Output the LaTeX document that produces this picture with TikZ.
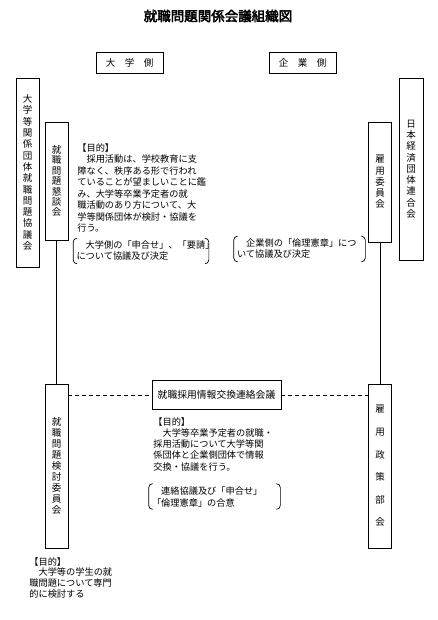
\documentclass[tikz,border=0pt]{standalone}
\usepackage{fontspec}
\setmainfont{Noto Sans CJK JP}
\newfontfamily\midashi{Noto Sans CJK JP}[FakeBold=3]
\begin{document}
\begin{tikzpicture}[x=1pt, y=-1pt, line width=0.7pt,
	tate/.style={draw, align=center, inner sep=0pt, minimum width=23pt},
	honbun/.style={anchor=north west, align=left, inner sep=0pt},
	kakko/.style={align=left, inner xsep=3pt, inner ysep=0pt, text width=125pt, minimum height=25pt}]

\useasboundingbox (0,0) rectangle (437,620);

\node[font=\fontsize{13.5}{16}\midashi] (title) at (218,16) {就職問題関係会議組織図};

% 大学側・企業側
\node[draw, minimum width=67pt, minimum height=21pt, font=\fontsize{9.5}{11}\selectfont] (daigaku) at (129.5,62.5) {大　学　側};
\node[draw, minimum width=67pt, minimum height=21pt, font=\fontsize{9.5}{11}\selectfont] (kigyo) at (302.5,62.5) {企　業　側};

% 大学側の組織
\node[tate, minimum height=189pt, font=\fontsize{9.5}{11.3}\selectfont] (kyogikai) at (27.5,172.5)
	{大\\学\\等\\関\\係\\団\\体\\就\\職\\問\\題\\協\\議\\会};
\node[tate, minimum height=118pt, font=\fontsize{9.5}{10.4}\selectfont] (kondankai) at (56.5,181)
	{就\\職\\問\\題\\懇\\談\\会};
\node[tate, minimum height=164pt, font=\fontsize{9.5}{11}\selectfont] (kentou) at (56.5,466)
	{就\\職\\問\\題\\検\\討\\委\\員\\会};

% 企業側の組織
\node[tate, minimum width=24pt, minimum height=182pt, font=\fontsize{9.5}{11.25}\selectfont] (keidanren) at (411,169)
	{日\\本\\経\\済\\団\\体\\連\\合\\会};
\node[tate, minimum height=120pt, font=\fontsize{9.5}{11.25}\selectfont] (koyou) at (380,182)
	{雇\\用\\委\\員\\会};
\node[tate, minimum height=164pt, font=\fontsize{9.5}{22.6}\selectfont] (seisaku) at (380,466)
	{雇\\用\\政\\策\\部\\会};

% 連絡会議
\node[draw, minimum width=129pt, minimum height=29pt, font=\fontsize{9.8}{11}\selectfont] (renraku) at (216.5,395)
	{就職採用情報交換連絡会議};

\draw (kondankai.south) -- (kentou.north);
\draw (koyou.south) -- (seisaku.north);
\draw[dash pattern=on 4pt off 3pt] (kentou.east |- renraku.west) -- (renraku.west);
\draw[dash pattern=on 4pt off 3pt] (renraku.east) -- (seisaku.west |- renraku.east);

% 目的
\node[honbun, font=\fontsize{9.2}{11.5}\selectfont] (mokuteki1) at (77,143)
	{【目的】\\　採用活動は、学校教育に支\\障なく、秩序ある形で行われ\\ていることが望ましいことに鑑\\み、大学等卒業予定者の就\\職活動のあり方について、大\\学等関係団体が検討・協議を\\行う。};
\node[honbun, font=\fontsize{9.2}{11.25}\selectfont] (mokuteki2) at (153,417)
	{【目的】\\　大学等卒業予定者の就職・\\採用活動について大学等関\\係団体と企業側団体で情報\\交換・協議を行う。};
\node[honbun, font=\fontsize{9.2}{10.7}\selectfont] (mokuteki3) at (29,557)
	{【目的】\\　大学等の学生の就\\職問題について専門\\的に検討する};

% 協議事項
\node[kakko, text width=129pt, font=\fontsize{9.2}{11}\selectfont] (kettei1) at (141,251)
	{　大学側の「申合せ」、「要請」\\について協議及び決定};
\node[kakko, font=\fontsize{9.2}{11}\selectfont] (kettei2) at (299.5,249)
	{　企業側の「倫理憲章」につ\\いて協議及び決定};
\node[kakko, font=\fontsize{9.2}{12}\selectfont] (goui) at (214.5,496.5)
	{　連絡協議及び「申合せ」\\「倫理憲章」の合意};

\foreach \n in {kettei1, kettei2, goui} {
	\draw[rounded corners=4pt] ([xshift=4pt]\n.north west) -- (\n.north west) -- (\n.south west) -- ([xshift=4pt]\n.south west);
	\draw[rounded corners=4pt] ([xshift=-4pt]\n.north east) -- (\n.north east) -- (\n.south east) -- ([xshift=-4pt]\n.south east);
}
\end{tikzpicture}
\end{document}
